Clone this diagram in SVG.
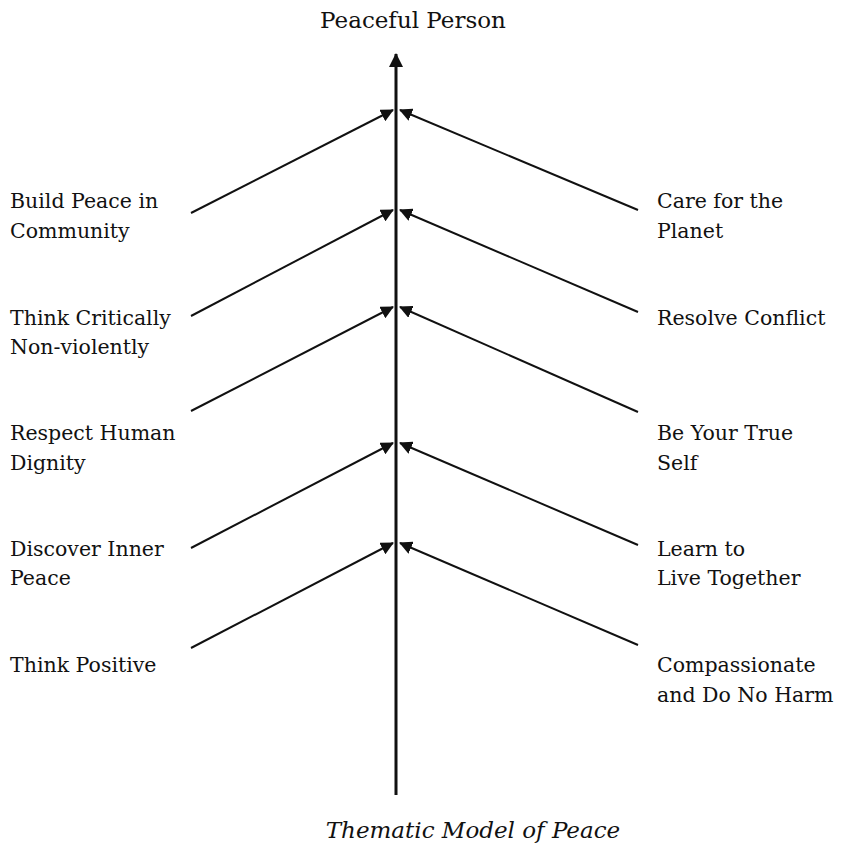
<svg xmlns="http://www.w3.org/2000/svg" width="841" height="845" viewBox="0 0 841 845">
<style>
text{font-family:"DejaVu Serif","Liberation Serif",serif;font-size:20.5px;fill:#111}
.big{font-size:23px}
.it{font-style:italic}
.ln{stroke:#111;stroke-width:2;fill:none}
.main{stroke:#111;stroke-width:3;fill:none}
</style>
<defs>
<marker id="ah" markerWidth="13" markerHeight="13" refX="12" refY="6.5" orient="auto" markerUnits="userSpaceOnUse" viewBox="0 0 13 13"><path d="M0,0 L13,6.5 L0,13 z" fill="#111"/></marker>
<marker id="ahm" markerWidth="14" markerHeight="14" refX="13" refY="7" orient="auto" markerUnits="userSpaceOnUse" viewBox="0 0 14 14"><path d="M0,0 L14,7 L0,14 z" fill="#111"/></marker>
</defs>
<g id="title"><text x="413" y="28" text-anchor="middle" class="big">Peaceful Person</text></g>
<g id="caption"><text x="473" y="838" text-anchor="middle" class="big it">Thematic Model of Peace</text></g>
<g id="connectors">
<line class="main" x1="396" y1="795" x2="396" y2="54" marker-end="url(#ahm)"/>
<line class="ln" x1="191" y1="213" x2="393" y2="110" marker-end="url(#ah)"/>
<line class="ln" x1="191" y1="316" x2="393" y2="210" marker-end="url(#ah)"/>
<line class="ln" x1="191" y1="411" x2="393" y2="307" marker-end="url(#ah)"/>
<line class="ln" x1="191" y1="548" x2="393" y2="443" marker-end="url(#ah)"/>
<line class="ln" x1="191" y1="648" x2="393" y2="543" marker-end="url(#ah)"/>
<line class="ln" x1="638" y1="210" x2="400" y2="110" marker-end="url(#ah)"/>
<line class="ln" x1="638" y1="312" x2="400" y2="210" marker-end="url(#ah)"/>
<line class="ln" x1="638" y1="412" x2="400" y2="307" marker-end="url(#ah)"/>
<line class="ln" x1="638" y1="545" x2="400" y2="443" marker-end="url(#ah)"/>
<line class="ln" x1="638" y1="645" x2="400" y2="543" marker-end="url(#ah)"/>
</g>
<g id="build-peace"><text x="10" y="208">Build Peace in</text><text x="10" y="238">Community</text></g>
<g id="think-critically"><text x="10" y="325">Think Critically</text><text x="10" y="354">Non-violently</text></g>
<g id="respect-dignity"><text x="10" y="440">Respect Human</text><text x="10" y="470">Dignity</text></g>
<g id="inner-peace"><text x="10" y="556">Discover Inner</text><text x="10" y="585">Peace</text></g>
<g id="think-positive"><text x="10" y="672">Think Positive</text></g>
<g id="care-planet"><text x="657" y="208">Care for the</text><text x="657" y="238">Planet</text></g>
<g id="resolve-conflict"><text x="657" y="325">Resolve Conflict</text></g>
<g id="true-self"><text x="657" y="440">Be Your True</text><text x="657" y="470">Self</text></g>
<g id="live-together"><text x="657" y="556">Learn to</text><text x="657" y="585">Live Together</text></g>
<g id="compassionate"><text x="657" y="672">Compassionate</text><text x="657" y="702">and Do No Harm</text></g>
</svg>
